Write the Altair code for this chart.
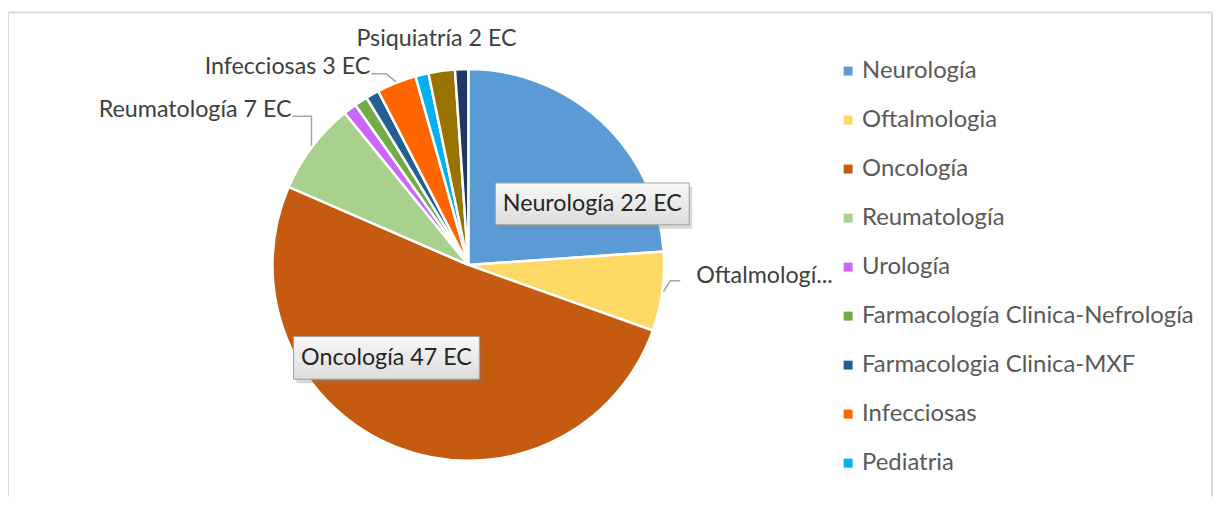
import math
import altair as alt
import pandas as pd

# ---------------- data ----------------
categories = ["Neurología", "Oftalmologia", "Oncología", "Reumatología", "Urología",
              "Farmacología Clinica-Nefrología", "Farmacologia Clinica-MXF", "Infecciosas",
              "Pediatria", "Psiquiatría", "Otros"]
values = [22, 6, 47, 7, 1, 1, 1, 3, 1, 2, 1]
label_texts = ["Neurología 22 EC", "Oftalmologí...", "Oncología 47 EC", "Reumatología 7 EC",
               "", "", "", "Infecciosas 3 EC", "", "Psiquiatría 2 EC", ""]
colors = ["#5B9BD5", "#FFD966", "#C55A11", "#A9D18E", "#CC66FF", "#70AD47",
          "#255E91", "#FF6600", "#00B0F0", "#997300", "#203864"]
legend_entries = categories[:9]

# ---------------- layout / style ----------------
W, H = 1212, 490
CX, CY = 463, 257
R = 197
FONT = "Lato"
FS = 23.4
LFS = 24

box_style = {
    "Neurología": dict(rf=0.6, off=(44, 25), w=195, h=42),
    "Oncología": dict(rf=0.6, off=(-39, -16.5), w=187, h=43),
}
outer_style = {
    "Oftalmologia": dict(elbow=(7, -11), run=10, gap=16, base=2, align="left"),
    "Reumatología": dict(elbow=(0, -30), run=-19, gap=-1, base=1, align="right"),
    "Infecciosas": dict(elbow=(-10, -8), run=-15, gap=-1, base=0, align="right"),
    "Psiquiatría": dict(text=(-5, -24), align="center"),
}

total = sum(values)
mids = []
acc = 0
for v in values:
    mids.append((acc + v / 2) / total * 2 * math.pi)
    acc += v


def polar(a, r):
    return r * math.sin(a), -r * math.cos(a)


arc_df = pd.DataFrame({"category": categories, "value": values, "idx": range(len(values))})

text_rows, leader_rows, box_rows = [], [], []
for c, lab, a in zip(categories, label_texts, mids):
    if not lab:
        continue
    if c in box_style:
        s = box_style[c]
        ax, ay = polar(a, R * s["rf"])
        bx, by = ax + s["off"][0], ay + s["off"][1]
        hh = s["h"] / s["w"]
        path = f"M-1,-{hh:.4f}L1,-{hh:.4f}L1,{hh:.4f}L-1,{hh:.4f}Z"
        box_rows.append(dict(x=bx, y=by, size=s["w"] ** 2, shape=path))
        text_rows.append(dict(text=lab, x=bx, y=by, align="center", kind="box"))
    else:
        s = outer_style[c]
        sx, sy = polar(a, R + 1)
        if "text" in s:
            text_rows.append(dict(text=lab, x=sx + s["text"][0], y=sy + s["text"][1],
                                  align=s["align"], kind="outer"))
            continue
        ex, ey = sx + s["elbow"][0], sy + s["elbow"][1]
        fx, fy = ex + s["run"], ey
        leader_rows += [dict(label=lab, seq=0, x=sx, y=sy), dict(label=lab, seq=1, x=ex, y=ey),
                        dict(label=lab, seq=2, x=fx, y=fy)]
        text_rows.append(dict(text=lab, x=fx + s["gap"], y=fy + s["base"],
                              align=s["align"], kind="outer"))

text_df = pd.DataFrame(text_rows)
leader_df = pd.DataFrame(leader_rows)
box_df = pd.DataFrame(box_rows)

xs = alt.Scale(domain=[-CX, W - CX], range=[0, W], nice=False, zero=False)
ys = alt.Scale(domain=[-CY, H - CY], range=[0, H], nice=False, zero=False)
X = lambda: alt.X("x:Q", scale=xs, axis=None)
Y = lambda: alt.Y("y:Q", scale=ys, axis=None)

frame_df = pd.DataFrame({"k": [0]})
frame = alt.layer(
    alt.Chart(frame_df).mark_rule(color="#D9D9D9", strokeWidth=2).encode(
        x=alt.value(0), x2=alt.value(W - 1), y=alt.value(3)),
    alt.Chart(frame_df).mark_rule(color="#D9D9D9", strokeWidth=2).encode(
        x=alt.value(0), y=alt.value(3), y2=alt.value(H)),
    alt.Chart(frame_df).mark_rule(color="#D9D9D9", strokeWidth=2).encode(
        x=alt.value(W - 1), y=alt.value(3), y2=alt.value(H)),
)

pie = alt.Chart(arc_df).mark_arc(outerRadius=R, stroke="white", strokeWidth=2.5).encode(
    theta=alt.Theta("value:Q", stack=True),
    order=alt.Order("idx:Q"),
    color=alt.Color("category:N",
                    scale=alt.Scale(domain=categories, range=colors),
                    legend=alt.Legend(values=legend_entries, title=None, orient="none",
                                      legendX=833, legendY=50, symbolType="square",
                                      symbolSize=81, symbolStrokeWidth=0,
                                      labelFont=FONT, labelFontSize=LFS, labelColor="#595959",
                                      labelOffset=2, rowPadding=25.3, labelLimit=600, padding=0)),
    x=alt.value(CX), y=alt.value(CY),
)

leaders = alt.Chart(leader_df).mark_line(color="#A6A6A6", strokeWidth=1.5).encode(
    x=X(), y=Y(), detail="label:N", order="seq:Q")

shadow = alt.Chart(box_df).mark_point(filled=True, color="#7F7F7F", opacity=0.3,
                                      xOffset=3, yOffset=4).encode(
    x=X(), y=Y(), size=alt.Size("size:Q", scale=None, legend=None),
    shape=alt.Shape("shape:N", scale=None, legend=None))
boxes = alt.Chart(box_df).mark_point(
    filled=True, opacity=1, stroke="#A0A0A0", strokeWidth=1,
    fill=alt.LinearGradient(gradient="linear", x1=0, x2=0, y1=0, y2=1,
                            stops=[alt.GradientStop(offset=0, color="#F8F8F8"),
                                   alt.GradientStop(offset=1, color="#DCDCDC")])).encode(
    x=X(), y=Y(), size=alt.Size("size:Q", scale=None, legend=None),
    shape=alt.Shape("shape:N", scale=None, legend=None))

texts = []
for al in ["left", "right", "center"]:
    for kind in ["box", "outer"]:
        sub = text_df[(text_df["align"] == al) & (text_df["kind"] == kind)]
        if len(sub) == 0:
            continue
        texts.append(alt.Chart(sub).mark_text(
            align=al, baseline="middle" if kind == "box" else "alphabetic",
            font=FONT, fontSize=FS,
            color="#262626" if kind == "box" else "#404040").encode(
            x=X(), y=Y(), text="text:N"))

chart = alt.layer(frame, pie, leaders, shadow, boxes, *texts).properties(
    width=W, height=H, padding=0, autosize=alt.AutoSizeParams(type="none")
).configure_view(stroke=None)

chart.save("out.html", embed_options={"renderer": "svg", "actions": False})
